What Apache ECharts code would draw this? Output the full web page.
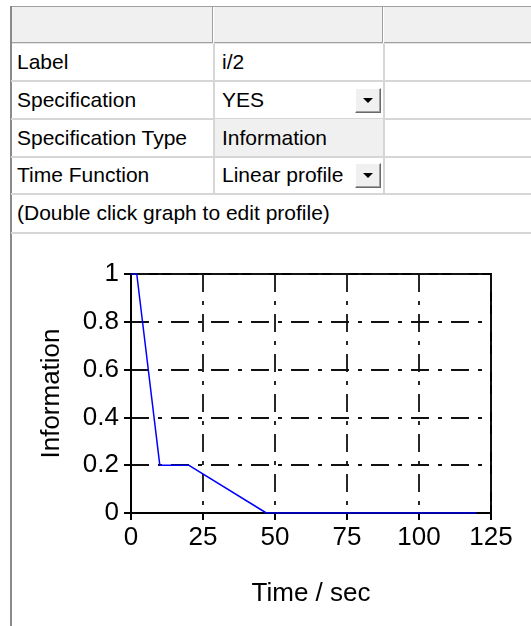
<!DOCTYPE html>
<html>
<head>
<meta charset="utf-8">
<script src="https://cdn.jsdelivr.net/npm/echarts@6/dist/echarts.min.js"></script>
<style>
  html, body { margin:0; padding:0; background:#fff; }
  body { width:531px; height:626px; overflow:hidden; position:relative; font-family:'Liberation Sans', Arial, sans-serif; }
  .abs { position:absolute; }
  .txt { position:absolute; font-size:21px; color:#000; white-space:nowrap; line-height:22px; }
  .btn { position:absolute; width:26px; height:25px; background:#f0f0f0; box-sizing:border-box;
         border-top:1px solid #fff; border-left:1px solid #fff; border-right:1px solid #696969; border-bottom:1px solid #696969;
         box-shadow: inset -1px -1px 0 #a0a0a0; }
  .tri { position:absolute; left:7px; top:9px; width:0; height:0; border-left:5px solid transparent; border-right:5px solid transparent; border-top:5px solid #000; }
  #chart { position:absolute; left:0; top:0; width:531px; height:626px; }
</style>
</head>
<body>
<div id="table"></div>
<div id="chart"></div>
<script>
// ---- table content ----
const rowLabels = ['Label', 'Specification', 'Specification Type', 'Time Function'];
const rowValues = ['i/2', 'YES', 'Information', 'Linear profile'];
const rowHasDropdown = [false, true, false, true];
const rowIsReadOnly = [false, false, true, false];
const noteText = '(Double click graph to edit profile)';

// ---- chart data ----
const timeSec = [0, 2, 10, 20, 47, 120];
const information = [1, 1, 0.2, 0.2, 0, 0];
const xTickValues = [0, 25, 50, 75, 100, 125];
const yTickValues = [0, 0.2, 0.4, 0.6, 0.8, 1];
const xAxisTitle = 'Time / sec';
const yAxisTitle = 'Information';

// ---- build table ----
(function buildTable(){
  const t = document.getElementById('table');
  function box(css){ const d = document.createElement('div'); d.className='abs'; d.style.cssText = css; t.appendChild(d); return d; }
  function text(str, x, yc){ const d = document.createElement('div'); d.className='txt'; d.textContent = str; d.style.left = x+'px'; d.style.top = (yc-11)+'px'; t.appendChild(d); return d; }
  const col1 = 214, col2 = 384, left = 11;
  // header
  box('left:'+left+'px;top:7px;width:'+(531-left)+'px;height:36px;background:#f0f0f0;');
  box('left:'+left+'px;top:6px;width:'+(531-left)+'px;height:1px;background:#a0a0a0;');
  box('left:'+left+'px;top:42px;width:'+(531-left)+'px;height:1px;background:#a0a0a0;');
  box('left:'+left+'px;top:43px;width:'+(531-left)+'px;height:1px;background:#e3e3e3;');
  box('left:'+(col1-2)+'px;top:7px;width:1px;height:36px;background:#a0a0a0;');
  box('left:'+(col1-1)+'px;top:7px;width:1px;height:36px;background:#ffffff;');
  box('left:'+(col2-2)+'px;top:7px;width:1px;height:36px;background:#a0a0a0;');
  box('left:'+(col2-1)+'px;top:7px;width:1px;height:36px;background:#ffffff;');
  // left outer border
  box('left:10px;top:6px;width:2px;height:620px;background:#8a8a8a;');
  // rows
  const rowTop = 44, rowH = 37.7;
  for (let i = 0; i < rowLabels.length; i++) {
    const y0 = rowTop + i*rowH, y1 = y0 + rowH;
    if (rowIsReadOnly[i]) box('left:'+(col1+1)+'px;top:'+(y0)+'px;width:'+(col2-col1-2)+'px;height:'+(rowH-1.5)+'px;background:#f0f0f0;');
    box('left:'+left+'px;top:'+(y1-1.5)+'px;width:'+(531-left)+'px;height:2px;background:#d6d6d6;');
    box('left:'+(col1-1)+'px;top:'+y0+'px;width:2px;height:'+rowH+'px;background:#d6d6d6;');
    box('left:'+(col2-1)+'px;top:'+y0+'px;width:2px;height:'+rowH+'px;background:#d6d6d6;');
    const yc = (y0 + y1)/2 - 0.5;
    text(rowLabels[i], 17, yc);
    text(rowValues[i], 222, yc);
    if (rowHasDropdown[i]) {
      const b = document.createElement('div'); b.className='btn';
      b.style.left = (col2-29)+'px'; b.style.top = (yc-12.5)+'px';
      const tri = document.createElement('div'); tri.className='tri'; b.appendChild(tri);
      t.appendChild(b);
    }
  }
  const ny0 = rowTop + rowLabels.length*rowH, ny1 = ny0 + rowH + 0.5;
  box('left:'+left+'px;top:'+(ny1-1.5)+'px;width:'+(531-left)+'px;height:2px;background:#d6d6d6;');
  text(noteText, 17, (ny0+ny1)/2 - 0.5);
})();

// ---- chart ----
const chart = echarts.init(document.getElementById('chart'), null, { renderer: 'canvas' });
const FONT = 'Liberation Sans';
const gridDash = [18, 9, 4, 9];
chart.setOption({
  animation: false,
  backgroundColor: 'transparent',
  textStyle: { fontFamily: FONT },
  grid: { show: true, left: 131, top: 274, width: 360, height: 239, borderColor: '#000', borderWidth: 2, backgroundColor: 'transparent', containLabel: false },
  xAxis: {
    type: 'value', min: xTickValues[0], max: xTickValues[xTickValues.length-1], interval: xTickValues[1]-xTickValues[0],
    name: xAxisTitle, nameLocation: 'middle', nameGap: 68,
    nameTextStyle: { fontSize: 26, color: '#000', fontFamily: FONT },
    axisLine: { show: true, onZero: false, lineStyle: { color: '#000', width: 2 } },
    axisTick: { show: true, inside: false, length: 7, lineStyle: { color: '#000', width: 2 } },
    axisLabel: { show: true, margin: 12, fontSize: 26, color: '#000', fontFamily: FONT, showMinLabel: true, showMaxLabel: true, hideOverlap: false },
    splitLine: { show: true, lineStyle: { color: '#111', width: 1.8, type: gridDash } }
  },
  yAxis: {
    type: 'value', min: yTickValues[0], max: yTickValues[yTickValues.length-1], interval: yTickValues[1]-yTickValues[0],
    name: yAxisTitle, nameLocation: 'middle', nameGap: 66, nameRotate: 90,
    nameTextStyle: { fontSize: 26, color: '#000', fontFamily: FONT },
    axisLine: { show: true, onZero: false, lineStyle: { color: '#000', width: 2 } },
    axisTick: { show: true, inside: false, length: 7, lineStyle: { color: '#000', width: 2 } },
    axisLabel: { show: true, margin: 12, fontSize: 26, color: '#000', fontFamily: FONT, showMinLabel: true, showMaxLabel: true, hideOverlap: false },
    splitLine: { show: true, lineStyle: { color: '#111', width: 1.8, type: gridDash } }
  },
  series: [{
    type: 'line',
    data: timeSec.map((t, i) => [t, information[i]]),
    showSymbol: false,
    symbol: 'none',
    lineStyle: { color: '#0000ff', width: 1.5 },
    z: 5
  }]
});
</script>
</body>
</html>
